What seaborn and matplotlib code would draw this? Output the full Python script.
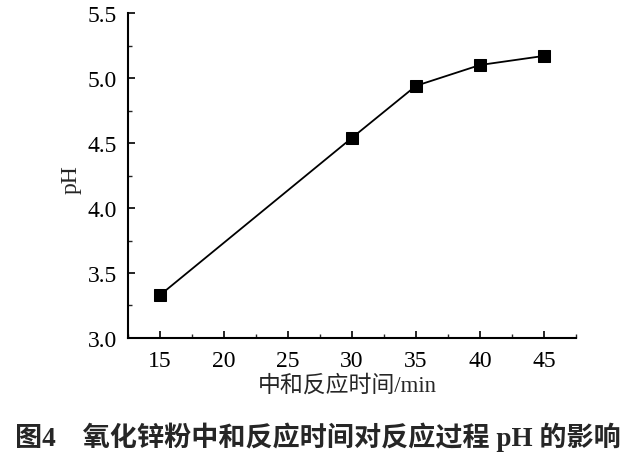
import matplotlib
matplotlib.use("Agg")
import matplotlib.pyplot as plt
import seaborn as sns
import pandas as pd
from matplotlib.ticker import MultipleLocator

time_min = [15, 30, 35, 40, 45]
ph_values = [3.33, 4.54, 4.94, 5.10, 5.17]
x_ticks = [15, 20, 25, 30, 35, 40, 45]
y_ticks = [3.0, 3.5, 4.0, 4.5, 5.0, 5.5]
x_label = "中和反应时间/min"
y_label = "pH"
caption = "图4    氧化锌粉中和反应时间对反应过程 pH 的影响"

df = pd.DataFrame({"t": time_min, "ph": ph_values})

sns.set_theme(style="ticks")
plt.rcParams["font.family"] = ["Liberation Serif", "Noto Sans CJK SC"]
plt.rcParams["xtick.direction"] = "in"
plt.rcParams["ytick.direction"] = "in"

fig = plt.figure(figsize=(6.4, 4.64), dpi=100)
ax = fig.add_axes([0.2, 0.2694, 0.70, 0.7004])

sns.lineplot(data=df, x="t", y="ph", ax=ax, color="black", linewidth=1.3,
             marker="s", markersize=9, markeredgecolor="black",
             markerfacecolor="black")

ax.set_xlim(12.5, 47.5)
ax.set_ylim(3.0, 5.5)
ax.set_xticks(x_ticks)
ax.set_yticks(y_ticks)
ax.set_yticklabels([f"{v:.1f}" for v in y_ticks])
ax.xaxis.set_minor_locator(MultipleLocator(2.5))
ax.yaxis.set_minor_locator(MultipleLocator(0.25))
ax.tick_params(axis="both", which="major", length=5, width=1.2, labelsize=17,
               colors="black")
ax.tick_params(axis="y", which="major", pad=8)
ax.tick_params(axis="x", which="major", pad=9)
ax.tick_params(axis="both", which="minor", length=3, width=1.0)
for s in ["top", "right"]:
    ax.spines[s].set_visible(False)
for s in ["left", "bottom"]:
    ax.spines[s].set_linewidth(1.5)
    ax.spines[s].set_color("black")

ax.set_xlabel(x_label, fontsize=16.5,
              family=["Liberation Serif", "Noto Sans CJK SC"])
ax.set_ylabel(y_label, fontsize=17)
ax.xaxis.set_label_coords(0.49, -0.143)
ax.yaxis.set_label_coords(-0.127, 0.489)
ax.xaxis.label.set_va("center")
ax.yaxis.label.set_va("center")

fig.text(0.023, 0.058, caption, fontsize=19.5, fontweight="bold",
         family=["Liberation Serif", "Noto Sans CJK SC"], ha="left", va="center")

fig.savefig("out.png", dpi=100, facecolor="white")
